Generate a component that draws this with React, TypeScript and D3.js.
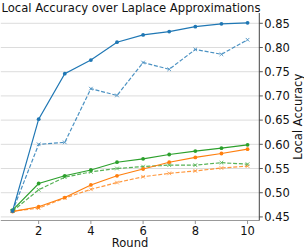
import React from 'react';
import * as d3 from 'd3';

const rounds = [1, 2, 3, 4, 5, 6, 7, 8, 9, 10];

const blueSolid = [0.462, 0.652, 0.746, 0.774, 0.811, 0.826, 0.833, 0.843, 0.849, 0.851];
const blueDashed = [0.462, 0.600, 0.604, 0.715, 0.701, 0.769, 0.755, 0.796, 0.786, 0.816];
const greenSolid = [0.464, 0.519, 0.535, 0.547, 0.563, 0.570, 0.579, 0.586, 0.592, 0.599];
const greenDashed = [0.462, 0.506, 0.532, 0.543, 0.550, 0.554, 0.557, 0.557, 0.562, 0.559];
const orangeSolid = [0.461, 0.471, 0.490, 0.516, 0.535, 0.549, 0.563, 0.573, 0.581, 0.590];
const orangeDashed = [0.462, 0.468, 0.489, 0.507, 0.521, 0.533, 0.540, 0.545, 0.551, 0.555];

const xTicks = [2, 4, 6, 8, 10];
const yTicks = [0.45, 0.5, 0.55, 0.6, 0.65, 0.7, 0.75, 0.8, 0.85];

const series = [
  { values: orangeDashed, color: '#ff7f0e', dashed: true },
  { values: greenDashed, color: '#2ca02c', dashed: true },
  { values: blueDashed, color: '#1f77b4', dashed: true },
  { values: orangeSolid, color: '#ff7f0e', dashed: false },
  { values: greenSolid, color: '#2ca02c', dashed: false },
  { values: blueSolid, color: '#1f77b4', dashed: false }
];

const W = 304;
const H = 250;
const plot = { left: 0.8, right: 259.3, top: 13, bottom: 220.5 };
const font = 'DejaVu Sans, sans-serif';

const App = () => {
  const x = d3.scaleLinear().domain([0.55, 10.45]).range([plot.left, plot.right]);
  const y = d3.scaleLinear().domain([0.4426, 0.8713]).range([plot.bottom, plot.top]);

  const line = d3
    .line<number>()
    .x((_, i) => x(rounds[i]))
    .y((d) => y(d));

  return (
    <svg width={W} height={H} style={{ position: 'absolute', left: 0, top: 0 }} fontFamily={font}>
      {/* grid */}
      {yTicks.map((t) => (
        <line key={'g' + t} x1={plot.left} x2={plot.right} y1={y(t)} y2={y(t)} stroke="#dcdcdc" strokeWidth={1} />
      ))}

      {/* lines */}
      {series.map((s, k) => (
        <g key={k} opacity={s.dashed ? 0.8 : 1}>
          <path
            d={line(s.values) || ''}
            fill="none"
            stroke={s.color}
            strokeWidth={1.2}
            strokeDasharray={s.dashed ? '4,1.8' : undefined}
          />
          {s.values.map((v, i) =>
            s.dashed ? (
              <path
                key={i}
                d={`M${x(rounds[i]) - 1.8},${y(v) - 1.8}L${x(rounds[i]) + 1.8},${y(v) + 1.8}M${x(rounds[i]) - 1.8},${y(v) + 1.8}L${x(rounds[i]) + 1.8},${y(v) - 1.8}`}
                stroke={s.color}
                strokeWidth={0.9}
              />
            ) : (
              <circle key={i} cx={x(rounds[i])} cy={y(v)} r={1.9} fill={s.color} />
            )
          )}
        </g>
      ))}

      {/* spines */}
      <line x1={plot.left} x2={plot.right} y1={plot.bottom} y2={plot.bottom} stroke="#999" strokeWidth={1} />
      <line x1={plot.right} x2={plot.right} y1={plot.top} y2={plot.bottom} stroke="#444" strokeWidth={1} />

      {/* x ticks */}
      {xTicks.map((t) => (
        <g key={'x' + t}>
          <line x1={x(t)} x2={x(t)} y1={plot.bottom} y2={plot.bottom + 3.5} stroke="#888" strokeWidth={0.9} />
          <text x={x(t)} y={plot.bottom + 14} textAnchor="middle" fontSize={11.5} fill="#111">
            {t}
          </text>
        </g>
      ))}

      {/* y ticks */}
      {yTicks.map((t) => (
        <g key={'y' + t}>
          <line x1={plot.right} x2={plot.right + 3.5} y1={y(t)} y2={y(t)} stroke="#444" strokeWidth={0.9} />
          <text x={plot.right + 5} y={y(t) + 4.2} textAnchor="start" fontSize={11.5} fill="#111">
            {d3.format('.2f')(t)}
          </text>
        </g>
      ))}

      <text x={(plot.left + plot.right) / 2} y={247} textAnchor="middle" fontSize={11.5} fill="#111">
        Round
      </text>
      <text
        transform={`translate(301.5,${(plot.top + plot.bottom) / 2}) rotate(-90)`}
        textAnchor="middle"
        fontSize={11.5}
        fill="#111"
      >
        Local Accuracy
      </text>
      <text x={131} y={11.5} textAnchor="middle" fontSize={11.6} fill="#111">
        Local Accuracy over Laplace Approximations
      </text>
    </svg>
  );
};

export default App;
